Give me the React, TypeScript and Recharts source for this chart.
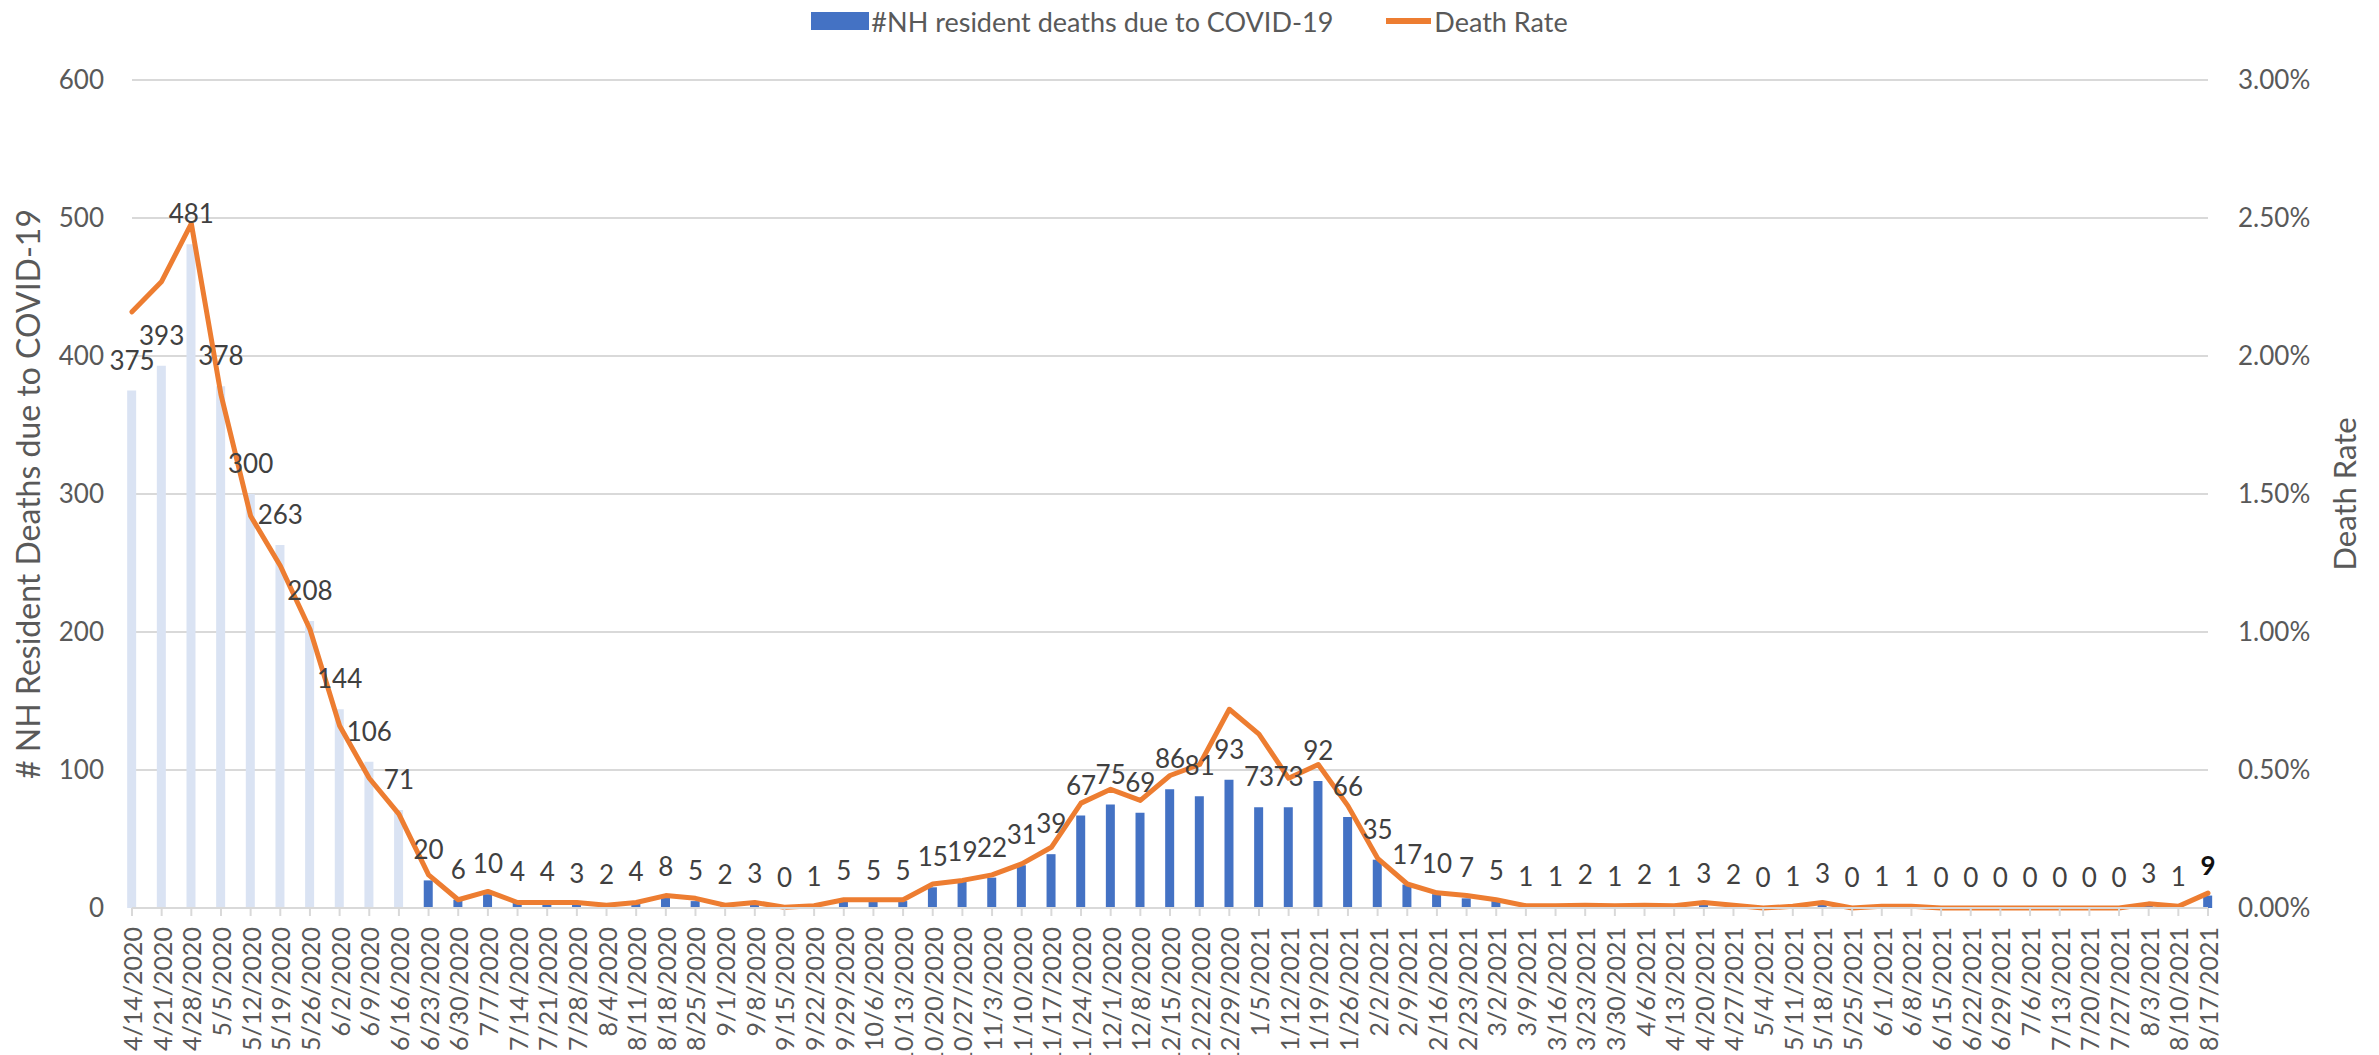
import React from 'react';
import { ComposedChart, Bar, Line, XAxis, YAxis, CartesianGrid, Legend, LabelList, Cell } from 'recharts';

const FONT = 'Lato, "Open Sans", sans-serif';

const weekLabels = [
  '4/14/2020', '4/21/2020', '4/28/2020', '5/5/2020', '5/12/2020', '5/19/2020', '5/26/2020', '6/2/2020', '6/9/2020', '6/16/2020',
  '6/23/2020', '6/30/2020', '7/7/2020', '7/14/2020', '7/21/2020', '7/28/2020', '8/4/2020', '8/11/2020', '8/18/2020', '8/25/2020',
  '9/1/2020', '9/8/2020', '9/15/2020', '9/22/2020', '9/29/2020', '10/6/2020', '10/13/2020', '10/20/2020', '10/27/2020', '11/3/2020',
  '11/10/2020', '11/17/2020', '11/24/2020', '12/1/2020', '12/8/2020', '12/15/2020', '12/22/2020', '12/29/2020', '1/5/2021', '1/12/2021',
  '1/19/2021', '1/26/2021', '2/2/2021', '2/9/2021', '2/16/2021', '2/23/2021', '3/2/2021', '3/9/2021', '3/16/2021', '3/23/2021',
  '3/30/2021', '4/6/2021', '4/13/2021', '4/20/2021', '4/27/2021', '5/4/2021', '5/11/2021', '5/18/2021', '5/25/2021', '6/1/2021',
  '6/8/2021', '6/15/2021', '6/22/2021', '6/29/2021', '7/6/2021', '7/13/2021', '7/20/2021', '7/27/2021', '8/3/2021', '8/10/2021',
  '8/17/2021',
];

const nhDeaths = [
  375, 393, 481, 378, 300, 263, 208, 144, 106, 71,
  20, 6, 10, 4, 4, 3, 2, 4, 8, 5,
  2, 3, 0, 1, 5, 5, 5, 15, 19, 22,
  31, 39, 67, 75, 69, 86, 81, 93, 73, 73,
  92, 66, 35, 17, 10, 7, 5, 1, 1, 2,
  1, 2, 1, 3, 2, 0, 1, 3, 0, 1,
  1, 0, 0, 0, 0, 0, 0, 0, 3, 1,
  9,
];

// Death rate in percent
const deathRatePct = [
  2.16, 2.27, 2.48, 1.86, 1.42, 1.24, 1.01, 0.66, 0.47, 0.34,
  0.12, 0.03, 0.06, 0.02, 0.02, 0.02, 0.01, 0.02, 0.045, 0.035,
  0.01, 0.02, 0.003, 0.008, 0.03, 0.03, 0.03, 0.087, 0.1, 0.12,
  0.16, 0.22, 0.38, 0.43, 0.39, 0.48, 0.52, 0.72, 0.63, 0.47,
  0.52, 0.37, 0.18, 0.087, 0.055, 0.045, 0.03, 0.008, 0.008, 0.01,
  0.008, 0.01, 0.008, 0.02, 0.01, 0.0, 0.006, 0.02, 0.0, 0.006,
  0.006, 0.0, 0.0, 0.0, 0.0, 0.0, 0.0, 0.0, 0.015, 0.006,
  0.054,
];

const leftTicks = [0, 100, 200, 300, 400, 500, 600];
const rightTicks = [0, 0.5, 1, 1.5, 2, 2.5, 3];
const LIGHT_BAR_COUNT = 10;

const data = weekLabels.map((week, i) => ({ idx: i, week, deaths: nhDeaths[i], rate: deathRatePct[i] }));
const xTicks = data.map((d) => d.idx);

const AXIS_TEXT = '#595959';

const XTick = (props: any) => {
  const { x, y, payload } = props;
  return (
    <text
      transform={`translate(${x},${y}) rotate(-90)`}
      textAnchor="end"
      dominantBaseline="central"
      fill={AXIS_TEXT}
      fontSize={25}
      fontFamily={FONT}
    >
      {weekLabels[payload.value]}
    </text>
  );
};

const BarLabel = (props: any) => {
  const { x, y, width, value, index } = props;
  const isLast = index === nhDeaths.length - 1;
  const cx = Number(x) + (width ? Number(width) / 2 : 0);
  return (
    <text
      x={cx}
      y={Number(y) - 21}
      textAnchor="middle"
      fill={isLast ? '#111' : '#404040'}
      fontWeight={isLast ? 700 : 400}
      fontSize={26}
      fontFamily={FONT}
    >
      {value}
    </text>
  );
};

const LeftTitle = (props: any) => {
  const vb = props.viewBox;
  const cx = vb.x + 27;
  const cy = vb.y + vb.height / 2;
  return (
    <text transform={`translate(${cx},${cy}) rotate(-90)`} textAnchor="middle" dominantBaseline="central" fill={AXIS_TEXT} fontSize={32} fontFamily={FONT}>
      # NH Resident Deaths due to COVID-19
    </text>
  );
};

const RightTitle = (props: any) => {
  const vb = props.viewBox;
  const cx = vb.x + 136;
  const cy = vb.y + vb.height / 2;
  return (
    <text transform={`translate(${cx},${cy}) rotate(-90)`} textAnchor="middle" dominantBaseline="central" fill={AXIS_TEXT} fontSize={31} fontFamily={FONT}>
      Death Rate
    </text>
  );
};

const LegendContent = () => (
  <div
    style={{
      display: 'flex',
      alignItems: 'center',
      justifyContent: 'center',
      fontFamily: FONT,
      fontSize: 27,
      color: AXIS_TEXT,
      height: 42,
      whiteSpace: 'nowrap',
    }}
  >
    <span style={{ display: 'inline-block', width: 58, height: 18, background: '#4472C4' }} />
    <span style={{ marginLeft: 2 }}>#NH resident deaths due to COVID-19</span>
    <span style={{ display: 'inline-block', width: 45, height: 6, background: '#ED7D31', marginLeft: 53 }} />
    <span style={{ marginLeft: 3 }}>Death Rate</span>
  </div>
);

export default function App() {
  return (
    <div style={{ position: 'fixed', left: 0, top: 0, width: 2379, height: 1055, background: '#fff' }}>
      <ComposedChart width={2379} height={1055} data={data} margin={{ top: 80, right: 0, bottom: 0, left: 0 }}>
        <CartesianGrid yAxisId="left" vertical={false} stroke="#d9d9d9" strokeWidth={2} />
        <XAxis
          dataKey="idx"
          type="number"
          domain={[0, weekLabels.length - 1]}
          ticks={xTicks}
          interval={0}
          height={147}
          axisLine={{ stroke: '#d9d9d9', strokeWidth: 2 }}
          tickLine={{ stroke: '#d9d9d9', strokeWidth: 2 }}
          tickSize={8}
          tickMargin={11}
          tick={<XTick />}
        />
        <YAxis
          yAxisId="left"
          orientation="left"
          width={132}
          domain={[0, 600]}
          ticks={leftTicks}
          interval={0}
          axisLine={false}
          tickLine={false}
          tickSize={0}
          tickMargin={28}
          tick={{ fill: AXIS_TEXT, fontSize: 26, fontFamily: FONT }}
          label={<LeftTitle />}
        />
        <YAxis
          yAxisId="right"
          orientation="right"
          width={171}
          domain={[0, 3]}
          ticks={rightTicks}
          interval={0}
          axisLine={false}
          tickLine={false}
          tickSize={0}
          tickMargin={30}
          tickFormatter={(v: number) => `${v.toFixed(2)}%`}
          tick={{ fill: AXIS_TEXT, fontSize: 26, fontFamily: FONT }}
          label={<RightTitle />}
        />
        <Legend
          layout="horizontal"
          verticalAlign="middle"
          align="center"
          content={<LegendContent />}
          wrapperStyle={{ top: 0, left: 0, width: 2379, height: 42 }}
        />
        <Bar yAxisId="left" dataKey="deaths" barSize={9} isAnimationActive={false} name="#NH resident deaths due to COVID-19">
          {data.map((d, i) => (
            <Cell key={d.week} fill={i < LIGHT_BAR_COUNT ? '#DAE3F3' : '#4472C4'} />
          ))}
        </Bar>
        <Line
          yAxisId="right"
          dataKey="rate"
          type="linear"
          stroke="#ED7D31"
          strokeWidth={5}
          strokeLinejoin="round"
          strokeLinecap="round"
          dot={false}
          activeDot={false}
          isAnimationActive={false}
          name="Death Rate"
          legendType="none"
        />
        <Line
          yAxisId="left"
          dataKey="deaths"
          stroke="none"
          dot={false}
          activeDot={false}
          isAnimationActive={false}
          legendType="none"
          tooltipType="none"
        >
          <LabelList dataKey="deaths" content={<BarLabel />} />
        </Line>
      </ComposedChart>
    </div>
  );
}
